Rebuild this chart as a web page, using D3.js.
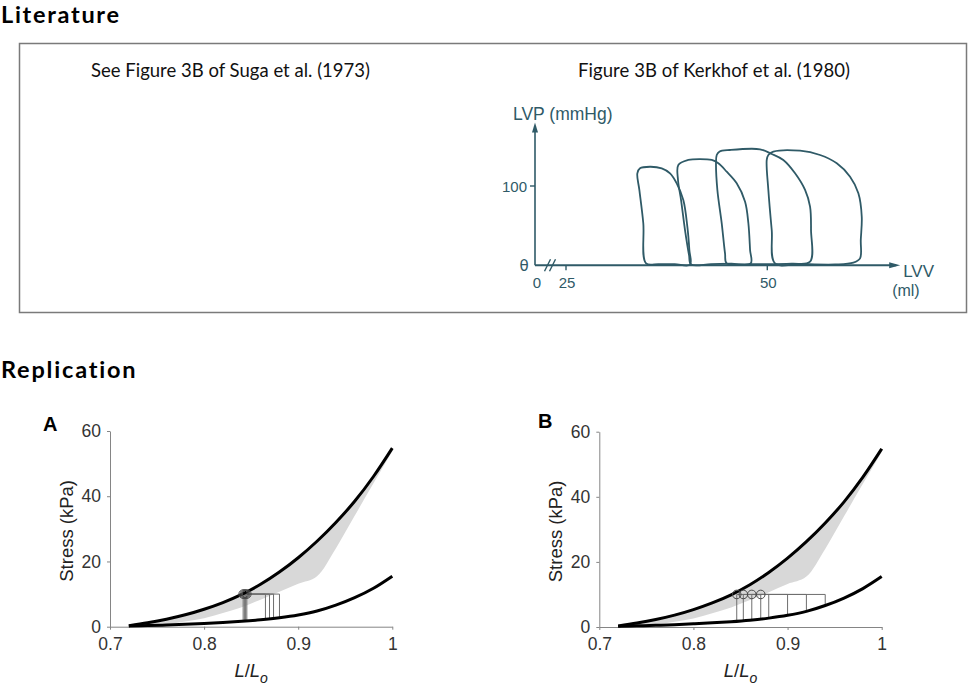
<!DOCTYPE html>
<html><head><meta charset="utf-8">
<script src="https://cdn.jsdelivr.net/npm/d3@7/dist/d3.min.js"></script>
<style>
html,body{margin:0;padding:0;background:#fff;}
svg{display:block;}
</style></head>
<body>
<svg id="chart" width="969" height="689"></svg>
<script>
// ================= DATA =================
const sectionTitles = ["Literature", "Replication"];
const literatureCaptions = ["See Figure 3B of Suga et al. (1973)", "Figure 3B of Kerkhof et al. (1980)"];
const panelLetters = ["A", "B"];

// --- Kerkhof et al. (1980) sketch: LVV (ml) vs LVP (mmHg) ---
const sketchLVVTicks = [0, 25, 50];
const sketchLVPTicks = [100];
const sketchLVPMax = 180;
const sketchLVVMax = 66.5;
const kerkhofLoop1 = [[34.94,2.5],[34.60,53],[34.11,95],[33.86,116],[34.19,122.3],[35.43,124.3],[36.89,122.3],[37.92,116],[38.75,103.4],[39.57,82.3],[40.07,48.7],[40.32,19.3],[40.40,0.8],[38.5,1.5],[36.5,1.5]];
const kerkhofLoop2 = [[40.53,1.0],[40.28,13],[39.78,44.5],[39.29,82.3],[38.91,107.6],[38.95,126.5],[40.19,132.8],[41.65,134],[43.10,132.8],[43.92,128.6],[44.96,118],[46.2,103.4],[47.24,80.2],[47.65,53],[47.86,19.3],[47.94,2.5],[45.5,2],[43,1.5]];
const kerkhofLoop3 = [[44.96,2.5],[44.75,15.1],[44.34,53],[43.80,95],[43.63,128.6],[43.72,139.1],[44.04,143.3],[45.37,145.4],[49.10,146.3],[50.55,140.4],[51.99,132.8],[53.45,116],[54.69,95],[55.31,73.9],[55.43,44.5],[55.31,4.5],[53,2],[48,1.5]];
const kerkhofLoop4 = [[50.96,2.5],[50.55,44.5],[50.13,95],[49.93,132.8],[50.13,139.1],[50.75,143.3],[54.07,144.5],[56.55,139.1],[58.63,128.6],[60.28,111.7],[61.31,90.8],[61.73,61.3],[61.61,31.9],[61.52,8.8],[60.69,3.3],[58.42,1.0],[54.07,1.6]];

// --- Replication: stress (kPa) vs L/Lo ---
const lengthGrid      = [0.72, 0.74, 0.76, 0.78, 0.80, 0.82, 0.84, 0.86, 0.88, 0.90,  0.92, 0.94,  0.96,  0.98,  1.00];
const activeStress    = [0.3,  1.2,  2.3,  3.65, 5.35, 7.4,  9.9,  13.0, 16.75, 21.15, 26.2, 31.95, 38.45, 46.05, 54.75];
const passiveStress   = [0.2,  0.35, 0.52, 0.72, 0.97, 1.27, 1.64, 2.11, 2.73, 3.58,  4.8,  6.6,   8.9,   11.8,  15.5];
const bandLowerStress = [0.3,  0.4,  0.8,  1.6,  2.6,  4.2,  6.0,  8.3,  10.7, 13.2,  15.5, 24.0,  34.0,  44.0,  53.8];
const stressTicks = [0, 20, 40, 60];
const lengthTicks = [0.7, 0.8, 0.9, 1];
const afterloadStress = 10;
const endSystolicA = [0.8415, 0.8428, 0.8441, 0.8454];
const endDiastolicA = [0.8652, 0.8695, 0.8738, 0.8801];
const endSystolicB = [0.846, 0.853, 0.862, 0.8715];
const endDiastolicB = [0.880, 0.900, 0.920, 0.940];

// ================= DRAWING =================
const svg = d3.select("#chart");
const HEAD_FONT = "Lato, 'Open Sans', sans-serif";
const ARIAL = "'Liberation Sans', Arial, sans-serif";

function fitSpacing(sel, target) {
  const node = sel.node();
  const n = sel.text().length;
  const w = node.getComputedTextLength();
  if (w > 0 && n > 1) sel.attr("letter-spacing", (target - w) / (n - 1));
}

// Section titles
const titleSpecs = [{x: 1, y: 23, w: 118}, {x: 1, y: 378, w: 135}];
sectionTitles.forEach((t, i) => {
  const s = svg.append("text").attr("x", titleSpecs[i].x).attr("y", titleSpecs[i].y)
    .attr("font-family", HEAD_FONT).attr("font-weight", 700).attr("font-size", 23.5)
    .attr("fill", "#000").text(t);
  fitSpacing(s, titleSpecs[i].w);
});

// Literature box
svg.append("rect").attr("x", 19.5).attr("y", 43.5).attr("width", 947).attr("height", 269)
  .attr("fill", "none").attr("stroke", "#7a7a7a").attr("stroke-width", 1.5);

const capSpecs = [{x: 91, y: 77, w: 279}, {x: 578, y: 77, w: 272}];
literatureCaptions.forEach((t, i) => {
  const s = svg.append("text").attr("x", capSpecs[i].x).attr("y", capSpecs[i].y)
    .attr("font-family", HEAD_FONT).attr("font-size", 18.5).attr("fill", "#111").text(t);
  fitSpacing(s, capSpecs[i].w);
});

// ---- Kerkhof sketch ----
(function () {
  const ink = "#2f5a67";
  const g = svg.append("g");
  const sx = d3.scaleLinear().domain([0, 25, 50]).range([535, 566, 767.3]);
  const sy = d3.scaleLinear().domain([0, 100]).range([265.3, 186]);
  const x0 = sx(0), y0 = sy(0), yTop = sy(sketchLVPMax), xEnd = sx(sketchLVVMax);

  // loops
  const loopLine = d3.line().x(d => sx(d[0])).y(d => sy(d[1])).curve(d3.curveCatmullRomClosed.alpha(0.5));
  [kerkhofLoop1, kerkhofLoop2, kerkhofLoop3, kerkhofLoop4].forEach(L => {
    g.append("path").attr("d", loopLine(L)).attr("fill", "none")
      .attr("stroke", ink).attr("stroke-width", 1.8).attr("stroke-linejoin", "round");
  });

  // axes
  g.append("line").attr("x1", x0).attr("x2", x0).attr("y1", y0).attr("y2", yTop + 4)
    .attr("stroke", ink).attr("stroke-width", 1.6);
  g.append("path").attr("d", `M${x0},${yTop} L${x0 - 3},${yTop + 10} L${x0 + 3},${yTop + 10} Z`).attr("fill", ink);
  g.append("line").attr("x1", x0).attr("x2", xEnd - 4).attr("y1", y0).attr("y2", y0)
    .attr("stroke", ink).attr("stroke-width", 2);
  g.append("path").attr("d", `M${xEnd},${y0} L${xEnd - 11},${y0 - 3} L${xEnd - 11},${y0 + 3} Z`).attr("fill", ink);

  // ticks
  sketchLVPTicks.forEach(v => {
    g.append("line").attr("x1", x0 - 5).attr("x2", x0).attr("y1", sy(v)).attr("y2", sy(v))
      .attr("stroke", ink).attr("stroke-width", 1.4);
    g.append("text").attr("x", x0 - 8).attr("y", sy(v) + 5.5).attr("text-anchor", "end")
      .attr("font-family", ARIAL).attr("font-size", 15).attr("fill", ink).text(v);
  });
  sketchLVVTicks.filter(v => v > 0).forEach(v => {
    g.append("line").attr("x1", sx(v)).attr("x2", sx(v)).attr("y1", y0).attr("y2", y0 + 5)
      .attr("stroke", ink).attr("stroke-width", 1.4);
  });
  sketchLVVTicks.forEach(v => {
    g.append("text").attr("x", sx(v) + (v === 0 ? 2 : 1)).attr("y", y0 + 23).attr("text-anchor", "middle")
      .attr("font-family", ARIAL).attr("font-size", 15).attr("fill", ink).text(v);
  });
  // zero on the LVP axis (hand-written theta-like zero)
  g.append("text").attr("x", x0 - 11).attr("y", y0 + 5.5).attr("text-anchor", "middle")
    .attr("font-family", "'DejaVu Sans', sans-serif").attr("font-size", 15).attr("fill", ink).text("θ");
  // axis break
  const bx = (sx(0) + sx(25)) / 2;
  [-3, 2].forEach(dx => {
    g.append("line").attr("x1", bx + dx - 3).attr("x2", bx + dx + 3).attr("y1", y0 + 6).attr("y2", y0 - 6)
      .attr("stroke", ink).attr("stroke-width", 1.4);
  });
  // axis titles
  g.append("text").attr("x", 513).attr("y", 119.5).attr("font-family", ARIAL)
    .attr("font-size", 17.5).attr("fill", ink).text("LVP (mmHg)");
  g.append("text").attr("x", xEnd + 3).attr("y", y0 + 11.5)
    .attr("font-family", ARIAL).attr("font-size", 17).attr("fill", ink).text("LVV");
  g.append("text").attr("x", xEnd - 8).attr("y", y0 + 30.5)
    .attr("font-family", ARIAL).attr("font-size", 16).attr("fill", ink).text("(ml)");
})();

// ---- Replication panels ----
function drawPanel(cfg) {
  const g = svg.append("g");
  const x = d3.scaleLinear().domain([0.7, 1]).range([cfg.x0, cfg.x1]);
  const y = d3.scaleLinear().domain([0, 60]).range([cfg.y0, cfg.y1]);
  const passiveAt = d3.scaleLinear().domain(lengthGrid).range(passiveStress);

  // shaded band
  const band = lengthGrid.map((L, i) => ({L, lo: bandLowerStress[i], hi: activeStress[i]}));
  g.append("path").datum(band)
    .attr("d", d3.area().x(d => x(d.L)).y0(d => y(d.lo)).y1(d => y(d.hi)).curve(d3.curveMonotoneX))
    .attr("fill", "#d8d8d8");

  // axes
  const axisColor = "#858585";
  const ya = g.append("g").attr("transform", `translate(${cfg.x0},0)`)
    .call(d3.axisLeft(y).tickValues(stressTicks).tickSize(3).tickSizeOuter(0).tickPadding(6).tickFormat(d => String(d)));
  const xa = g.append("g").attr("transform", `translate(0,${cfg.y0})`)
    .call(d3.axisBottom(x).tickValues(lengthTicks).tickSize(3).tickSizeOuter(0).tickPadding(8).tickFormat(d => String(d)));
  [ya, xa].forEach(a => {
    a.select(".domain").attr("stroke", axisColor).attr("stroke-width", 1);
    a.selectAll(".tick line").attr("stroke", axisColor);
    a.selectAll(".tick text").attr("font-family", ARIAL).attr("font-size", 17.5).attr("fill", "#333");
  });

  // loops
  const lp = d3.line().x(p => x(p[0])).y(p => y(p[1]));
  cfg.esl.forEach((e, i) => {
    const d = cfg.edl[i];
    const pts = [[e, passiveAt(e)], [e, afterloadStress], [d, afterloadStress], [d, passiveAt(d)]];
    lengthGrid.filter(L => L < d && L > e).reverse().forEach(L => pts.push([L, passiveAt(L)]));
    g.append("path").attr("d", lp(pts) + "Z").attr("fill", "none")
      .attr("stroke", "#6e6e6e").attr("stroke-width", 1);
  });

  // curves
  const cl = d3.line().x(d => x(d[0])).y(d => y(d[1])).curve(d3.curveMonotoneX);
  g.append("path").attr("d", cl(lengthGrid.map((L, i) => [L, passiveStress[i]])))
    .attr("fill", "none").attr("stroke", "#000").attr("stroke-width", 3);
  g.append("path").attr("d", cl(lengthGrid.map((L, i) => [L, activeStress[i]])))
    .attr("fill", "none").attr("stroke", "#000").attr("stroke-width", 3);

  // end-systolic points
  cfg.esl.forEach(e => {
    g.append("circle").attr("cx", x(e)).attr("cy", y(afterloadStress)).attr("r", 4.3)
      .attr("fill", "none").attr("stroke", "#4a4a4a").attr("stroke-width", 1);
  });

  // labels
  g.append("text").attr("x", cfg.letterX).attr("y", cfg.letterY).attr("font-family", ARIAL)
    .attr("font-weight", 700).attr("font-size", 20).attr("fill", "#000").text(cfg.letter);
  g.append("text").attr("transform", `translate(${cfg.x0 - 37},${(cfg.y0 + cfg.y1) / 2 + 2}) rotate(-90)`)
    .attr("text-anchor", "middle").attr("font-family", ARIAL).attr("font-size", 18.5)
    .attr("fill", "#222").text("Stress (kPa)");
  const xl = g.append("text").attr("x", (cfg.x0 + cfg.x1) / 2).attr("y", cfg.y0 + 50)
    .attr("text-anchor", "middle").attr("font-family", ARIAL).attr("font-size", 18.5).attr("fill", "#222");
  xl.append("tspan").attr("font-style", "italic").text("L");
  xl.append("tspan").text("/");
  xl.append("tspan").attr("font-style", "italic").text("L");
  xl.append("tspan").attr("font-style", "italic").attr("font-size", 14).attr("dy", 6).text("o");
}

drawPanel({letter: panelLetters[0], x0: 110, x1: 392.3, y0: 626.7, y1: 431, letterX: 43, letterY: 431,
  esl: endSystolicA, edl: endDiastolicA});
drawPanel({letter: panelLetters[1], x0: 599.3, x1: 881.7, y0: 627, y1: 431.7, letterX: 538, letterY: 428,
  esl: endSystolicB, edl: endDiastolicB});
</script>
</body></html>
